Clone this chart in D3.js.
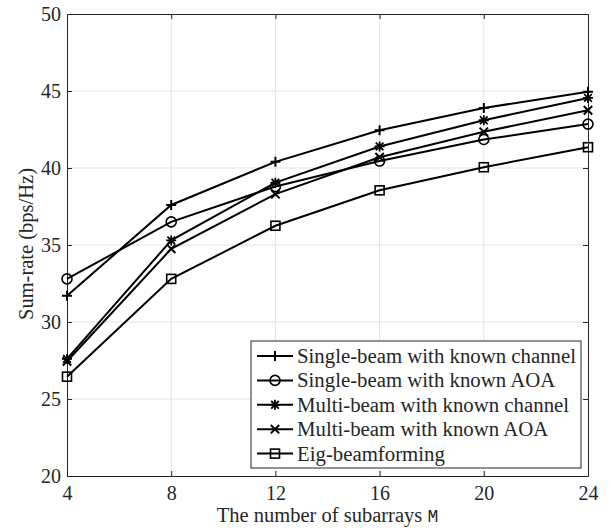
<!DOCTYPE html>
<html lang="en">
<head>
<meta charset="utf-8">
<title>Sum-rate vs subarrays</title>
<script src="https://cdnjs.cloudflare.com/ajax/libs/d3/7.8.5/d3.min.js"></script>
<style>
  body { margin: 0; background: #fff; }
  svg text { font-family: "Times New Roman", "Liberation Serif", serif; fill: #262626; }
  .grid line { stroke: #e3e3e3; stroke-width: 1px; }
  .series path { fill: none; stroke: #000; stroke-width: 2px; }
  .mk { fill: none; stroke: #000; stroke-width: 1.6px; }
</style>
</head>
<body>
<div id="chart"></div>
<script>
  // data
  var subarrays = [4, 8, 12, 16, 20, 24];
  var seriesNames = [
    "Single-beam with known channel",
    "Single-beam with known AOA",
    "Multi-beam with known channel",
    "Multi-beam with known AOA",
    "Eig-beamforming"
  ];
  var singleChannel = [31.7, 37.6, 40.4, 42.45, 43.9, 44.95];
  var singleAOA     = [32.8, 36.5, 38.8, 40.45, 41.85, 42.85];
  var multiChannel  = [27.6, 35.3, 39.05, 41.4, 43.1, 44.55];
  var multiAOA      = [27.45, 34.75, 38.3, 40.7, 42.35, 43.75];
  var eig           = [26.45, 32.8, 36.25, 38.55, 40.05, 41.35];
  var markers = ["plus", "circle", "star", "cross", "square"];
  var xTicks = [4, 8, 12, 16, 20, 24];
  var yTicks = [20, 25, 30, 35, 40, 45, 50];

  var allSeries = [singleChannel, singleAOA, multiChannel, multiAOA, eig];

  var width = 610, height = 529;
  var m = {left: 67, right: 22, top: 14, bottom: 53};
  var serif = "'Times New Roman', 'Liberation Serif', serif";

  var svg = d3.select("#chart").append("svg")
      .attr("width", width).attr("height", height);

  var x = d3.scaleLinear().domain([4, 24]).range([m.left, width - m.right]);
  var y = d3.scaleLinear().domain([20, 50]).range([height - m.bottom, m.top]);

  // grid
  var grid = svg.append("g").attr("class", "grid");
  grid.selectAll(".gx").data(xTicks.slice(1, -1)).enter().append("line")
      .attr("x1", function(d) { return x(d); }).attr("x2", function(d) { return x(d); })
      .attr("y1", y(20)).attr("y2", y(50));
  grid.selectAll(".gy").data(yTicks.slice(1, -1)).enter().append("line")
      .attr("y1", function(d) { return y(d); }).attr("y2", function(d) { return y(d); })
      .attr("x1", x(4)).attr("x2", x(24));

  // axes
  var xAxis = svg.append("g").attr("transform", "translate(0," + y(20) + ")")
      .call(d3.axisBottom(x).tickValues(xTicks).tickSizeInner(-5).tickSizeOuter(0).tickPadding(10));
  var yAxis = svg.append("g").attr("transform", "translate(" + x(4) + ",0)")
      .call(d3.axisLeft(y).tickValues(yTicks).tickSizeInner(-5).tickSizeOuter(0).tickPadding(6));
  var xTop = svg.append("g").attr("transform", "translate(0," + y(50) + ")")
      .call(d3.axisTop(x).tickValues(xTicks).tickSizeInner(-5).tickSizeOuter(0).tickFormat(""));
  var yRight = svg.append("g").attr("transform", "translate(" + x(24) + ",0)")
      .call(d3.axisRight(y).tickValues(yTicks).tickSizeInner(-5).tickSizeOuter(0).tickFormat(""));
  [xAxis, yAxis, xTop, yRight].forEach(function(a) {
    a.attr("font-family", serif).attr("font-size", 20);
    a.selectAll("path, line").attr("stroke", "#262626").attr("stroke-width", 1);
    a.selectAll("text").attr("fill", "#262626");
  });

  // labels
  var xl = svg.append("text").attr("x", x(14)).attr("y", 522)
      .attr("text-anchor", "middle").attr("font-family", serif).style("font-size", "20.5px");
  xl.append("tspan").text("The number of subarrays ");
  xl.append("tspan").style("font-family", "'Liberation Mono', monospace").style("font-size", "18px").text("M");
  svg.append("text")
      .attr("transform", "translate(33,244) rotate(-90)")
      .attr("text-anchor", "middle").attr("font-family", serif).style("font-size", "20.5px")
      .text("Sum-rate (bps/Hz)");

  function drawMarker(g, type, cx, cy) {
    var s = 5;
    if (type === "plus") {
      g.append("path").attr("class", "mk").attr("d",
        "M" + (cx - s) + "," + cy + "H" + (cx + s) + "M" + cx + "," + (cy - s) + "V" + (cy + s));
    } else if (type === "circle") {
      g.append("circle").attr("class", "mk").attr("cx", cx).attr("cy", cy).attr("r", 5)
        .style("fill", "none");
    } else if (type === "cross") {
      var c = 4.2;
      g.append("path").attr("class", "mk").attr("d",
        "M" + (cx - c) + "," + (cy - c) + "L" + (cx + c) + "," + (cy + c) +
        "M" + (cx - c) + "," + (cy + c) + "L" + (cx + c) + "," + (cy - c));
    } else if (type === "star") {
      var c2 = 3.8;
      g.append("path").attr("class", "mk").style("stroke-width", "1.8px").attr("d",
        "M" + (cx - s) + "," + cy + "H" + (cx + s) + "M" + cx + "," + (cy - s) + "V" + (cy + s) +
        "M" + (cx - c2) + "," + (cy - c2) + "L" + (cx + c2) + "," + (cy + c2) +
        "M" + (cx - c2) + "," + (cy + c2) + "L" + (cx + c2) + "," + (cy - c2));
    } else if (type === "square") {
      g.append("rect").attr("class", "mk").attr("x", cx - 4.5).attr("y", cy - 4.5)
        .attr("width", 9).attr("height", 9).style("fill", "none");
    }
  }

  var line = d3.line()
      .x(function(d, i) { return x(subarrays[i]); })
      .y(function(d) { return y(d); });

  allSeries.forEach(function(vals, k) {
    var g = svg.append("g").attr("class", "series");
    g.append("path").attr("d", line(vals));
    vals.forEach(function(v, i) { drawMarker(g, markers[k], x(subarrays[i]), y(v)); });
  });

  // legend
  var lg = svg.append("g");
  lg.append("rect").attr("x", 251).attr("y", 341).attr("width", 330).attr("height", 127)
      .attr("fill", "#fff").attr("stroke", "#262626").attr("stroke-width", 1);
  seriesNames.forEach(function(name, k) {
    var ly = 356 + k * 24.4;
    var g = lg.append("g").attr("class", "series");
    g.append("path").attr("d", "M257," + ly + "H293");
    drawMarker(g, markers[k], 275, ly);
    lg.append("text").attr("x", 297).attr("y", ly + 7)
      .attr("font-family", serif).style("font-size", "20.8px").text(name);
  });
</script>
</body>
</html>
